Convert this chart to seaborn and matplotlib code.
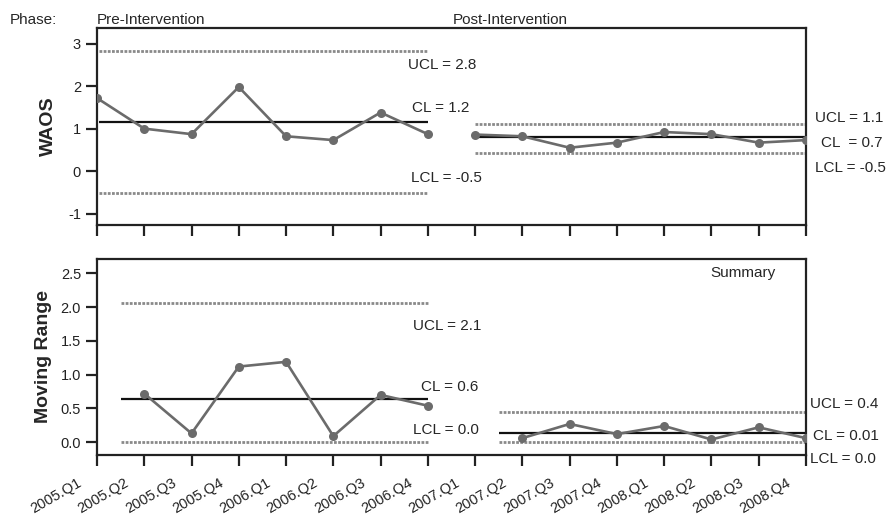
import pandas as pd
import matplotlib.pyplot as plt
import matplotlib.transforms as mtransforms
import seaborn as sns

# quarters on the x axis
quarters = ['2005.Q1', '2005.Q2', '2005.Q3', '2005.Q4', '2006.Q1', '2006.Q2',
            '2006.Q3', '2006.Q4', '2007.Q1', '2007.Q2', '2007.Q3', '2007.Q4',
            '2008.Q1', '2008.Q2', '2008.Q3', '2008.Q4']

# WAOS values (individuals chart)
waos_pre = [1.72, 1.00, 0.87, 1.98, 0.82, 0.73, 1.38, 0.87]
waos_post = [0.86, 0.82, 0.55, 0.67, 0.92, 0.87, 0.67, 0.73]

# moving range values (first point of each phase has none)
mr_pre = [None, 0.72, 0.13, 1.12, 1.19, 0.09, 0.70, 0.54]
mr_post = [None, 0.06, 0.27, 0.12, 0.24, 0.04, 0.22, 0.06]

# control limits drawn (UCL, CL, LCL) and their printed labels
waos_limits_pre = [2.82, 1.15, -0.51]
waos_limits_post = [1.12, 0.81, 0.42]
mr_limits_pre = [2.06, 0.64, 0.0]
mr_limits_post = [0.45, 0.13, 0.0]

waos_labels_pre = ['UCL = 2.8', 'CL = 1.2', 'LCL = -0.5']
waos_labels_post = ['UCL = 1.1', 'CL  = 0.7', 'LCL = -0.5']
mr_labels_pre = ['UCL = 2.1', 'CL = 0.6', 'LCL = 0.0']
mr_labels_post = ['UCL = 0.4', 'CL = 0.01', 'LCL = 0.0']

sns.set_style('ticks')
plt.rcParams['font.family'] = ['Liberation Sans', 'DejaVu Sans']

n = len(quarters)
idx = list(range(n))
df = pd.DataFrame({
    'x': idx,
    'phase': ['pre'] * 8 + ['post'] * 8,
    'waos': waos_pre + waos_post,
    'mr': mr_pre + mr_post,
})

fig = plt.figure(figsize=(8.89, 5.17), dpi=100)
ax1 = fig.add_axes([0.1091, 0.5648, 0.7975, 0.381])
ax2 = fig.add_axes([0.1091, 0.1199, 0.7975, 0.380])

line_col = '#6b6b6b'
dot_col = '#8a8a8a'
dotted = (0, (1, 0.5))

for ax, col in [(ax1, 'waos'), (ax2, 'mr')]:
    sns.lineplot(data=df, x='x', y=col, hue='phase', palette=[line_col, line_col],
                 marker='o', markersize=6.5, markeredgewidth=0, linewidth=1.9,
                 legend=False, sort=False, ax=ax, zorder=3)

# control lines
def draw_limits(ax, limits, x0, x1):
    ucl, cl, lcl = limits
    ax.hlines([ucl, lcl], x0, x1, colors=dot_col, linestyles=dotted, linewidth=2)
    ax.hlines(cl, x0, x1, colors='#111111', linewidth=1.6)

draw_limits(ax1, waos_limits_pre, 0.05, 7)
draw_limits(ax1, waos_limits_post, 8, 15)
draw_limits(ax2, mr_limits_pre, 0.5, 7)
draw_limits(ax2, mr_limits_post, 8.5, 15)

fs = 11
# labels for top panel
for (x, y), t in zip([(6.58, 2.5), (6.66, 1.49), (6.64, -0.17)], waos_labels_pre):
    ax1.text(x, y, t, fontsize=fs, va='center', ha='left')
for (x, y), t in zip([(15.19, 1.25), (15.32, 0.66), (15.19, 0.07)], waos_labels_post):
    ax1.text(x, y, t, fontsize=fs, va='center', ha='left', clip_on=False)
# labels for bottom panel
for (x, y), t in zip([(6.68, 1.72), (6.85, 0.82), (6.68, 0.18)], mr_labels_pre):
    ax2.text(x, y, t, fontsize=fs, va='center', ha='left')
for (x, y), t in zip([(15.08, 0.57), (15.15, 0.09), (15.08, -0.25)], mr_labels_post):
    ax2.text(x, y, t, fontsize=fs, va='center', ha='left', clip_on=False)
ax2.text(12.97, 2.51, 'Summary', fontsize=fs, va='center', ha='left')

# axes styling
ax1.set_xlim(0, 15)
ax2.set_xlim(0, 15)
ax1.set_ylim(-1.27, 3.37)
ax2.set_ylim(-0.19, 2.72)
ax1.set_yticks([-1, 0, 1, 2, 3])
ax1.set_yticklabels(['-1', '0', '1', '2', '3'])
ax2.set_yticks([0, 0.5, 1.0, 1.5, 2.0, 2.5])
ax2.set_yticklabels(['0.0', '0.5', '1.0', '1.5', '2.0', '2.5'])
for ax in (ax1, ax2):
    ax.set_xticks(idx)
    for s in ax.spines.values():
        s.set_visible(True)
        s.set_linewidth(1.6)
        s.set_color('#222222')
    ax.tick_params(axis='both', length=8, width=1.6, color='#222222',
                   labelsize=10.5, labelcolor='#222222')
    ax.set_xlabel('')
ax1.set_xticklabels([])
ax2.set_xticklabels(quarters, rotation=30, ha='right', va='top',
                    rotation_mode='anchor')
offset = mtransforms.ScaledTranslation(-0.20, -0.045, fig.dpi_scale_trans)
for lab in ax2.get_xticklabels():
    lab.set_transform(lab.get_transform() + offset)

ax1.set_ylabel('WAOS', fontsize=14, fontweight='bold', labelpad=8)
ax2.set_ylabel('Moving Range', fontsize=14, fontweight='bold', labelpad=6)

# phase headers
fig.text(10 / 889, 1 - 20 / 517, 'Phase:', fontsize=fs, va='center', ha='left')
fig.text(97 / 889, 1 - 20 / 517, 'Pre-Intervention', fontsize=fs, va='center', ha='left')
fig.text(453 / 889, 1 - 20 / 517, 'Post-Intervention', fontsize=fs, va='center', ha='left')

fig.savefig('out.png', dpi=100)
